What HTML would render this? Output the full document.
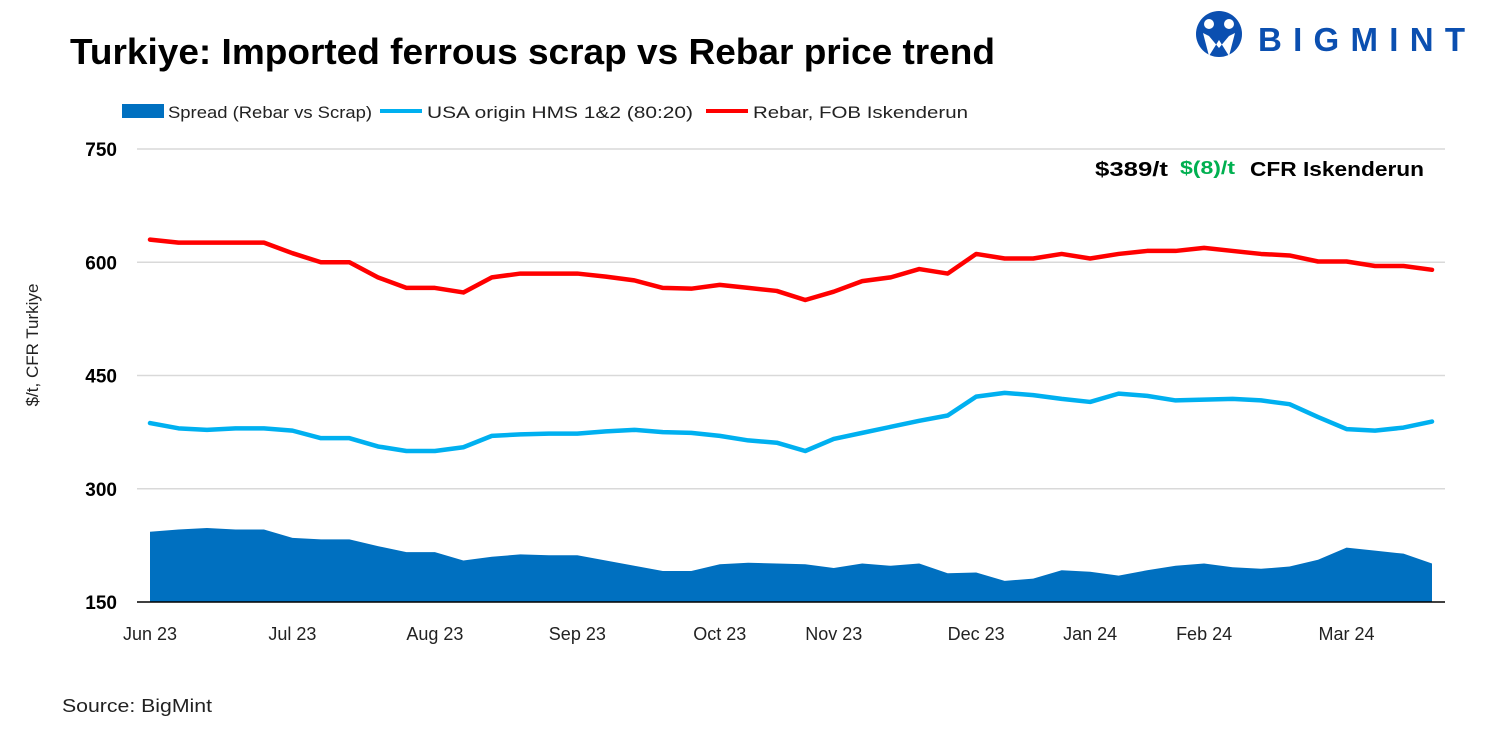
<!DOCTYPE html>
<html><head><meta charset="utf-8"><style>
body{margin:0;background:#fff;width:1500px;height:750px;overflow:hidden;font-family:"Liberation Sans",sans-serif}
</style></head><body>
<svg width="1500" height="750" xmlns="http://www.w3.org/2000/svg" font-family="Liberation Sans, sans-serif">
<text x="70" y="64" font-size="36" font-weight="bold" fill="#000" textLength="925" lengthAdjust="spacingAndGlyphs">Turkiye: Imported ferrous scrap vs Rebar price trend</text>
<g>
<circle cx="1219" cy="34" r="23" fill="#0b4fb0"/>
<circle cx="1209" cy="24" r="5" fill="#fff"/><circle cx="1229" cy="24" r="5" fill="#fff"/>
<path d="M1203 33 L1209 56 L1219 40 L1229 56 L1235 33 L1229 36 L1219 48 L1209 36Z" fill="#fff"/>
<text x="1258" y="51" font-size="33" font-weight="bold" fill="#0b4fb0" textLength="207" lengthAdjust="spacing">BIGMINT</text>
</g>
<g id="legend" font-size="17" fill="#222">
<g><rect x="122" y="104" width="42" height="14" fill="#0070c0"/><text x="168" y="118" textLength="204" lengthAdjust="spacingAndGlyphs">Spread (Rebar vs Scrap)</text></g>
<g><line x1="380" y1="111" x2="422" y2="111" stroke="#00b0f0" stroke-width="4"/><text x="427" y="118" textLength="266" lengthAdjust="spacingAndGlyphs">USA origin HMS 1&amp;2 (80:20)</text></g>
<g><line x1="706" y1="111" x2="748" y2="111" stroke="#ff0000" stroke-width="4"/><text x="753" y="118" textLength="215" lengthAdjust="spacingAndGlyphs">Rebar, FOB Iskenderun</text></g>
</g>
<text transform="translate(38,345) rotate(-90)" text-anchor="middle" font-size="17" fill="#222">$/t, CFR Turkiye</text>
<g id="grid"></g><g id="yt"></g><g id="xt"></g><g id="series"></g>
<g font-size="20" font-weight="bold">
<text x="1095" y="176" fill="#000" textLength="73" lengthAdjust="spacingAndGlyphs">$389/t</text>
<text x="1180" y="174" fill="#00b050" font-size="18" textLength="55" lengthAdjust="spacingAndGlyphs">$(8)/t</text>
<text x="1250" y="176" fill="#000" textLength="174" lengthAdjust="spacingAndGlyphs">CFR Iskenderun</text>
</g>
<text x="62" y="712" font-size="18" fill="#222" textLength="150" lengthAdjust="spacingAndGlyphs">Source: BigMint</text>
</svg>
<script>
const yTicks=[150,300,450,600,750];
const monthLabels=["Jun 23","Jul 23","Aug 23","Sep 23","Oct 23","Nov 23","Dec 23","Jan 24","Feb 24","Mar 24"];
const monthIndex=[0,5,10,15,20,24,29,33,37,42];
const rebar=[630,626,626,626,626,612,600,600,580,566,566,560,580,585,585,585,581,576,566,565,570,566,562,550,561,575,580,591,585,611,605,605,611,605,611,615,615,619,615,611,609,601,601,595,595,590];
const scrap=[387,380,378,380,380,377,367,367,356,350,350,355,370,372,373,373,376,378,375,374,370,364,361,350,366,374,382,390,397,422,427,424,419,415,426,423,417,418,419,417,412,395,379,377,381,389];
const spread=[243,246,248,246,246,235,233,233,224,216,216,205,210,213,212,212,205,198,191,191,200,202,201,200,195,201,198,201,188,189,178,181,192,190,185,192,198,201,196,194,197,206,222,218,214,201];
const NS="http://www.w3.org/2000/svg";
const x0=150,x1=1432,yB=602,yT=149,vmin=150,vmax=750;
const n=rebar.length;
const X=i=>x0+(x1-x0)*i/(n-1);
const Y=v=>yB-(v-vmin)*(yB-yT)/(vmax-vmin);
function mk(t,a,p){const e=document.createElementNS(NS,t);for(const k in a)e.setAttribute(k,a[k]);p.appendChild(e);return e;}
const grid=document.getElementById('grid'),yt=document.getElementById('yt'),xt=document.getElementById('xt'),se=document.getElementById('series');
yTicks.forEach(v=>{
 if(v>vmin){const l=mk('line',{x1:137,x2:1445,y1:Y(v),y2:Y(v),stroke:'#d9d9d9','stroke-width':1.5},grid);
 
 }
 const t=mk('text',{x:117,y:Y(v)+7,'text-anchor':'end','font-size':19,'font-weight':'bold',fill:'#000'},yt);t.textContent=v;
 
 
});
monthLabels.forEach((m,k)=>{
 const t=mk('text',{x:X(monthIndex[k]),y:640,'text-anchor':'middle','font-size':18,fill:'#222'},xt);t.textContent=m;
 
 
});
let d='M'+X(0)+' '+yB;spread.forEach((v,i)=>d+=' L'+X(i)+' '+Y(v));d+=' L'+X(n-1)+' '+yB+'Z';
const a=mk('path',{d:d,fill:'#0070c0'},se);


const ax=mk('line',{x1:137,x2:1445,y1:yB,y2:yB,stroke:'#000','stroke-width':1.5},se);


function line(arr,c,name){const p=mk('polyline',{points:arr.map((v,i)=>X(i)+','+Y(v)).join(' '),fill:'none',stroke:c,'stroke-width':4.5,'stroke-linejoin':'round','stroke-linecap':'round'},se);

}
line(scrap,'#00b0f0','usa-hms-line');
line(rebar,'#ff0000','rebar-line');
</script>
</body></html>
